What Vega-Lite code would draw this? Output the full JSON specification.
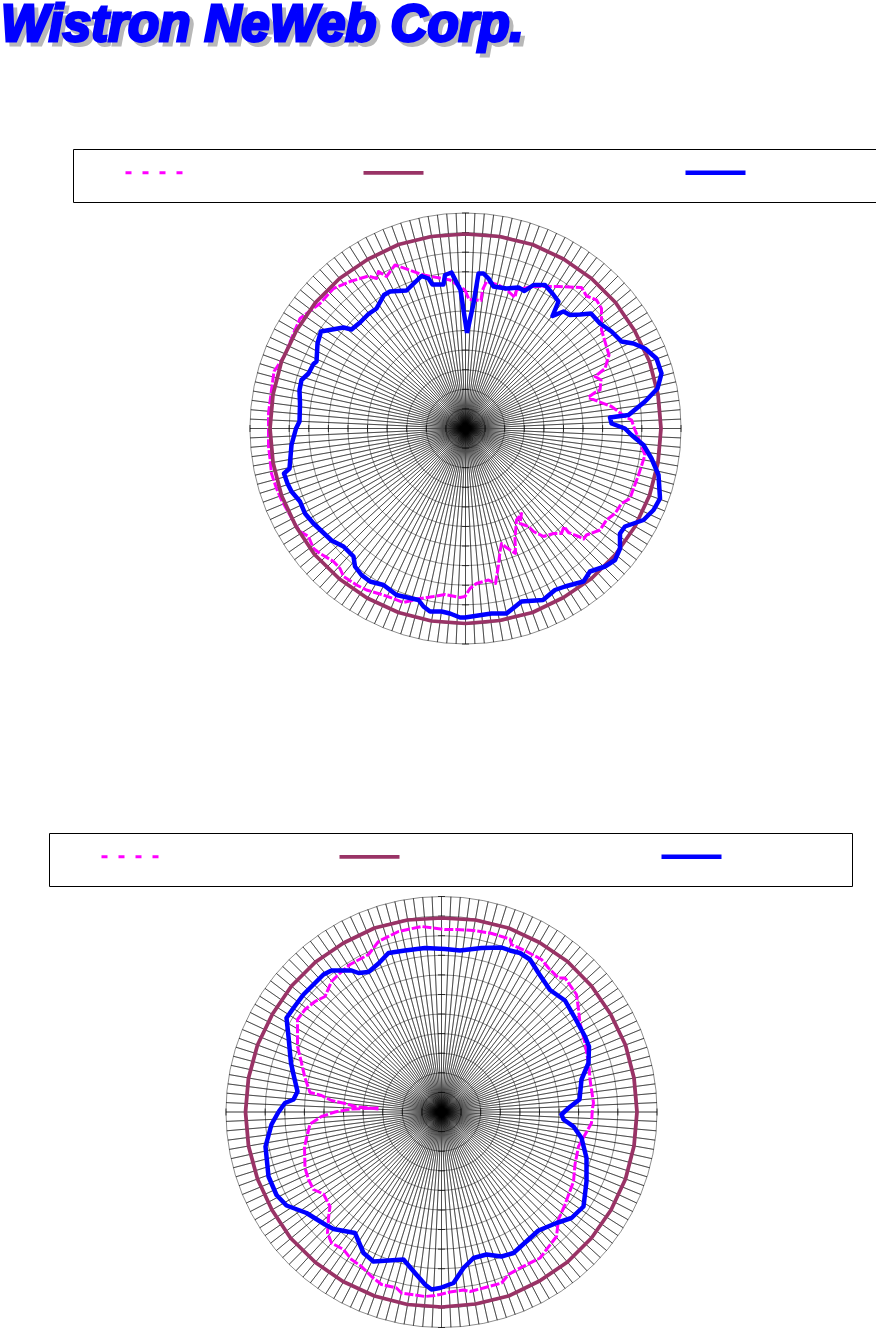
{"$schema":"https://vega.github.io/schema/vega-lite/v6.json","padding":0,"spacing":0,"background":"white",
"config":{"view":{"stroke":null},"concat":{"spacing":0}},
"datasets":{
"spokes":[{"angle":0},{"angle":2.5},{"angle":5},{"angle":7.5},{"angle":10},{"angle":12.5},{"angle":15},{"angle":17.5},{"angle":20},{"angle":22.5},{"angle":25},{"angle":27.5},{"angle":30},{"angle":32.5},{"angle":35},{"angle":37.5},{"angle":40},{"angle":42.5},{"angle":45},{"angle":47.5},{"angle":50},{"angle":52.5},{"angle":55},{"angle":57.5},{"angle":60},{"angle":62.5},{"angle":65},{"angle":67.5},{"angle":70},{"angle":72.5},{"angle":75},{"angle":77.5},{"angle":80},{"angle":82.5},{"angle":85},{"angle":87.5},{"angle":90},{"angle":92.5},{"angle":95},{"angle":97.5},{"angle":100},{"angle":102.5},{"angle":105},{"angle":107.5},{"angle":110},{"angle":112.5},{"angle":115},{"angle":117.5},{"angle":120},{"angle":122.5},{"angle":125},{"angle":127.5},{"angle":130},{"angle":132.5},{"angle":135},{"angle":137.5},{"angle":140},{"angle":142.5},{"angle":145},{"angle":147.5},{"angle":150},{"angle":152.5},{"angle":155},{"angle":157.5},{"angle":160},{"angle":162.5},{"angle":165},{"angle":167.5},{"angle":170},{"angle":172.5},{"angle":175},{"angle":177.5},{"angle":180},{"angle":182.5},{"angle":185},{"angle":187.5},{"angle":190},{"angle":192.5},{"angle":195},{"angle":197.5},{"angle":200},{"angle":202.5},{"angle":205},{"angle":207.5},{"angle":210},{"angle":212.5},{"angle":215},{"angle":217.5},{"angle":220},{"angle":222.5},{"angle":225},{"angle":227.5},{"angle":230},{"angle":232.5},{"angle":235},{"angle":237.5},{"angle":240},{"angle":242.5},{"angle":245},{"angle":247.5},{"angle":250},{"angle":252.5},{"angle":255},{"angle":257.5},{"angle":260},{"angle":262.5},{"angle":265},{"angle":267.5},{"angle":270},{"angle":272.5},{"angle":275},{"angle":277.5},{"angle":280},{"angle":282.5},{"angle":285},{"angle":287.5},{"angle":290},{"angle":292.5},{"angle":295},{"angle":297.5},{"angle":300},{"angle":302.5},{"angle":305},{"angle":307.5},{"angle":310},{"angle":312.5},{"angle":315},{"angle":317.5},{"angle":320},{"angle":322.5},{"angle":325},{"angle":327.5},{"angle":330},{"angle":332.5},{"angle":335},{"angle":337.5},{"angle":340},{"angle":342.5},{"angle":345},{"angle":347.5},{"angle":350},{"angle":352.5},{"angle":355},{"angle":357.5}],
"rings":[{"ring":1},{"ring":2},{"ring":3},{"ring":4},{"ring":5},{"ring":6},{"ring":7},{"ring":8},{"ring":9},{"ring":10},{"ring":11}],
"ticks":[{"t":-215.5},{"t":-195.9},{"t":-176.3},{"t":-156.7},{"t":-137.1},{"t":-117.5},{"t":-98},{"t":-78.4},{"t":-58.8},{"t":-39.2},{"t":-19.6},{"t":19.6},{"t":39.2},{"t":58.8},{"t":78.4},{"t":98},{"t":117.5},{"t":137.1},{"t":156.7},{"t":176.3},{"t":195.9},{"t":215.5}],
"logo":[{"label":"Wistron NeWeb Corp.","x":-464.5,"y":387.5}],
"top":[
{"series":"A","x":-0.5,"y":138.5},{"series":"A","x":3.5,"y":129},{"series":"A","x":15.5,"y":128},{"series":"A","x":17,"y":138.5},{"series":"A","x":21,"y":147},{"series":"A","x":33,"y":143.5},{"series":"A","x":43,"y":137},{"series":"A","x":49.5,"y":131},{"series":"A","x":51,"y":138.5},{"series":"A","x":66,"y":142},{"series":"A","x":93,"y":142},{"series":"A","x":116,"y":141},{"series":"A","x":121,"y":132.5},{"series":"A","x":131,"y":128.5},{"series":"A","x":136,"y":120},{"series":"A","x":136,"y":98.5},{"series":"A","x":143.5,"y":73.5},{"series":"A","x":139.5,"y":60},{"series":"A","x":129.5,"y":52},{"series":"A","x":135.5,"y":48.5},{"series":"A","x":134.5,"y":38.5},{"series":"A","x":129.5,"y":36},{"series":"A","x":122.5,"y":31},{"series":"A","x":146,"y":22},{"series":"A","x":159.5,"y":12},{"series":"A","x":166,"y":8.5},{"series":"A","x":169.5,"y":-1.5},{"series":"A","x":173,"y":-10},{"series":"A","x":179.5,"y":-26.5},{"series":"A","x":173,"y":-46.5},{"series":"A","x":168,"y":-60},{"series":"A","x":164.5,"y":-70},{"series":"A","x":156,"y":-75},{"series":"A","x":149.5,"y":-85},{"series":"A","x":141,"y":-91.5},{"series":"A","x":134.5,"y":-101.5},{"series":"A","x":121,"y":-106.5},{"series":"A","x":118,"y":-110.5},{"series":"A","x":113,"y":-108},{"series":"A","x":103,"y":-104},{"series":"A","x":98.5,"y":-98},{"series":"A","x":96,"y":-105},{"series":"A","x":88,"y":-105},{"series":"A","x":78,"y":-108},{"series":"A","x":68,"y":-103},{"series":"A","x":63,"y":-98},{"series":"A","x":54.5,"y":-95},{"series":"A","x":56,"y":-85},{"series":"A","x":51,"y":-91.5},{"series":"A","x":49.5,"y":-110},{"series":"A","x":50,"y":-125},{"series":"A","x":39.5,"y":-118},{"series":"A","x":36,"y":-115},{"series":"A","x":34.5,"y":-123},{"series":"A","x":33,"y":-136.5},{"series":"A","x":30,"y":-155},{"series":"A","x":23,"y":-151.5},{"series":"A","x":11,"y":-155},{"series":"A","x":4.5,"y":-160},{"series":"A","x":-0.5,"y":-168},{"series":"A","x":-5.5,"y":-169},{"series":"A","x":-20.5,"y":-166},{"series":"A","x":-32,"y":-168},{"series":"A","x":-45.5,"y":-170},{"series":"A","x":-62,"y":-174},{"series":"A","x":-82,"y":-166.5},{"series":"A","x":-99,"y":-161.5},{"series":"A","x":-109,"y":-156.5},{"series":"A","x":-122,"y":-148},{"series":"A","x":-125.5,"y":-140},{"series":"A","x":-132,"y":-133},{"series":"A","x":-145.5,"y":-125},{"series":"A","x":-152,"y":-120},{"series":"A","x":-157,"y":-108},{"series":"A","x":-165.5,"y":-103},{"series":"A","x":-172,"y":-93},{"series":"A","x":-184,"y":-71.5},{"series":"A","x":-189,"y":-60},{"series":"A","x":-194,"y":-45},{"series":"A","x":-195.5,"y":-30},{"series":"A","x":-197,"y":-18},{"series":"A","x":-197,"y":15},{"series":"A","x":-194,"y":38.5},{"series":"A","x":-191.5,"y":57},{"series":"A","x":-180.5,"y":73.5},{"series":"A","x":-172,"y":95},{"series":"A","x":-165.5,"y":110},{"series":"A","x":-145.5,"y":125},{"series":"A","x":-132,"y":140},{"series":"A","x":-115.5,"y":147},{"series":"A","x":-97,"y":152.5},{"series":"A","x":-89,"y":150},{"series":"A","x":-87,"y":157},{"series":"A","x":-79,"y":152},{"series":"A","x":-70.5,"y":163.5},{"series":"A","x":-42,"y":153.5},{"series":"A","x":-15.5,"y":148.5},{"series":"A","x":-0.5,"y":138.5},
{"series":"B","x":0,"y":194.5},{"series":"B","x":34,"y":192},{"series":"B","x":67,"y":184},{"series":"B","x":98,"y":169.5},{"series":"B","x":126,"y":150},{"series":"B","x":150,"y":126},{"series":"B","x":169,"y":98},{"series":"B","x":184,"y":67},{"series":"B","x":192.5,"y":34},{"series":"B","x":195.5,"y":0},{"series":"B","x":192.5,"y":-34},{"series":"B","x":184,"y":-67},{"series":"B","x":169.5,"y":-98},{"series":"B","x":150,"y":-126},{"series":"B","x":126,"y":-150},{"series":"B","x":98,"y":-169},{"series":"B","x":67,"y":-184},{"series":"B","x":34,"y":-192},{"series":"B","x":0,"y":-195},{"series":"B","x":-34,"y":-192.5},{"series":"B","x":-67,"y":-184},{"series":"B","x":-98.5,"y":-169.5},{"series":"B","x":-126,"y":-150.5},{"series":"B","x":-151,"y":-126},{"series":"B","x":-169.5,"y":-98},{"series":"B","x":-184,"y":-67},{"series":"B","x":-192.5,"y":-34},{"series":"B","x":-195.5,"y":0},{"series":"B","x":-192.5,"y":34},{"series":"B","x":-184,"y":67},{"series":"B","x":-169,"y":98},{"series":"B","x":-150,"y":126},{"series":"B","x":-126,"y":150},{"series":"B","x":-98,"y":169},{"series":"B","x":-67,"y":184},{"series":"B","x":-34,"y":192},{"series":"B","x":0,"y":194.5},
{"series":"C","x":1.5,"y":95.5},{"series":"C","x":8,"y":125},{"series":"C","x":13,"y":155},{"series":"C","x":18,"y":155},{"series":"C","x":23,"y":150},{"series":"C","x":28,"y":142},{"series":"C","x":41,"y":140},{"series":"C","x":53,"y":141},{"series":"C","x":59,"y":137.5},{"series":"C","x":68,"y":143.5},{"series":"C","x":79.5,"y":143.5},{"series":"C","x":87,"y":135},{"series":"C","x":93,"y":127},{"series":"C","x":87,"y":112.5},{"series":"C","x":98,"y":117},{"series":"C","x":104.5,"y":113.5},{"series":"C","x":114.5,"y":114},{"series":"C","x":125.5,"y":115},{"series":"C","x":134.5,"y":105},{"series":"C","x":146,"y":97},{"series":"C","x":156,"y":87},{"series":"C","x":168,"y":85},{"series":"C","x":179.5,"y":80},{"series":"C","x":191,"y":70},{"series":"C","x":196,"y":55},{"series":"C","x":192,"y":40},{"series":"C","x":179.5,"y":27},{"series":"C","x":163,"y":13.5},{"series":"C","x":144.5,"y":11},{"series":"C","x":146,"y":5},{"series":"C","x":159.5,"y":0},{"series":"C","x":166,"y":-6.5},{"series":"C","x":178,"y":-16.5},{"series":"C","x":186,"y":-30},{"series":"C","x":193,"y":-46.5},{"series":"C","x":194.5,"y":-70},{"series":"C","x":188,"y":-81.5},{"series":"C","x":178,"y":-91.5},{"series":"C","x":159.5,"y":-98},{"series":"C","x":154.5,"y":-105},{"series":"C","x":154.5,"y":-120},{"series":"C","x":149.5,"y":-131.5},{"series":"C","x":139.5,"y":-138},{"series":"C","x":124.5,"y":-143},{"series":"C","x":118,"y":-153},{"series":"C","x":99.5,"y":-158},{"series":"C","x":89.5,"y":-161.5},{"series":"C","x":77.5,"y":-171.5},{"series":"C","x":56,"y":-173},{"series":"C","x":41,"y":-185},{"series":"C","x":26,"y":-185},{"series":"C","x":16,"y":-186.5},{"series":"C","x":-0.5,"y":-189},{"series":"C","x":-5.5,"y":-189},{"series":"C","x":-15.5,"y":-185},{"series":"C","x":-24,"y":-183},{"series":"C","x":-35.5,"y":-183},{"series":"C","x":-42,"y":-178},{"series":"C","x":-47,"y":-171.5},{"series":"C","x":-69,"y":-166.5},{"series":"C","x":-82,"y":-156.5},{"series":"C","x":-95.5,"y":-153},{"series":"C","x":-104,"y":-146.5},{"series":"C","x":-110.5,"y":-138},{"series":"C","x":-112,"y":-128},{"series":"C","x":-122,"y":-118},{"series":"C","x":-134,"y":-112},{"series":"C","x":-144,"y":-102.5},{"series":"C","x":-152,"y":-95},{"series":"C","x":-160.5,"y":-85},{"series":"C","x":-165.5,"y":-73},{"series":"C","x":-174,"y":-63},{"series":"C","x":-178,"y":-55},{"series":"C","x":-181.5,"y":-45},{"series":"C","x":-176,"y":-40},{"series":"C","x":-174,"y":-16.5},{"series":"C","x":-169.5,"y":0},{"series":"C","x":-166,"y":7},{"series":"C","x":-165.5,"y":25},{"series":"C","x":-166,"y":38.5},{"series":"C","x":-164,"y":48.5},{"series":"C","x":-157,"y":55},{"series":"C","x":-152,"y":64.5},{"series":"C","x":-149,"y":67},{"series":"C","x":-148,"y":85},{"series":"C","x":-144.5,"y":97},{"series":"C","x":-122,"y":101},{"series":"C","x":-114,"y":99},{"series":"C","x":-105.5,"y":106},{"series":"C","x":-97,"y":114.5},{"series":"C","x":-89,"y":120},{"series":"C","x":-81.5,"y":133.5},{"series":"C","x":-75.5,"y":137},{"series":"C","x":-59,"y":138},{"series":"C","x":-44,"y":152.5},{"series":"C","x":-37,"y":150},{"series":"C","x":-33,"y":144},{"series":"C","x":-22,"y":144},{"series":"C","x":-20.5,"y":153.5},{"series":"C","x":-14,"y":156},{"series":"C","x":-5,"y":138.5},{"series":"C","x":-2,"y":118.5},{"series":"C","x":1.5,"y":95.5}
],
"bottom":[
{"series":"A","x":-63,"y":3},{"series":"A","x":-86.5,"y":5.5},{"series":"A","x":-96.5,"y":8.5},{"series":"A","x":-110,"y":11.5},{"series":"A","x":-120,"y":16.5},{"series":"A","x":-131.5,"y":19.5},{"series":"A","x":-136.5,"y":34},{"series":"A","x":-141.5,"y":55.5},{"series":"A","x":-144,"y":65.5},{"series":"A","x":-144,"y":92.5},{"series":"A","x":-136.5,"y":102.5},{"series":"A","x":-126.5,"y":110.5},{"series":"A","x":-116.5,"y":115.5},{"series":"A","x":-110,"y":130.5},{"series":"A","x":-103,"y":137.5},{"series":"A","x":-91.5,"y":147.5},{"series":"A","x":-73,"y":157.5},{"series":"A","x":-63,"y":170.5},{"series":"A","x":-43,"y":180.5},{"series":"A","x":-20,"y":185.5},{"series":"A","x":3.5,"y":182.5},{"series":"A","x":15,"y":182.5},{"series":"A","x":32,"y":181.5},{"series":"A","x":48.5,"y":179},{"series":"A","x":68.5,"y":173},{"series":"A","x":70,"y":167.5},{"series":"A","x":85,"y":160.5},{"series":"A","x":100,"y":152.5},{"series":"A","x":107,"y":144},{"series":"A","x":117,"y":134},{"series":"A","x":123.5,"y":134},{"series":"A","x":135,"y":117.5},{"series":"A","x":137,"y":102.5},{"series":"A","x":138.5,"y":89},{"series":"A","x":143.5,"y":69},{"series":"A","x":147.5,"y":45.5},{"series":"A","x":148.5,"y":32.5},{"series":"A","x":152,"y":9},{"series":"A","x":151,"y":4},{"series":"A","x":150,"y":-11},{"series":"A","x":137,"y":-34.5},{"series":"A","x":133.5,"y":-52.5},{"series":"A","x":132,"y":-69.5},{"series":"A","x":123.5,"y":-92.5},{"series":"A","x":117,"y":-107.5},{"series":"A","x":115,"y":-124.5},{"series":"A","x":110,"y":-131},{"series":"A","x":98.5,"y":-146},{"series":"A","x":78.5,"y":-156},{"series":"A","x":67,"y":-162.5},{"series":"A","x":60,"y":-171},{"series":"A","x":42,"y":-176},{"series":"A","x":28.5,"y":-179.5},{"series":"A","x":22,"y":-178},{"series":"A","x":8.5,"y":-180},{"series":"A","x":-1.5,"y":-182.5},{"series":"A","x":-6.5,"y":-183.5},{"series":"A","x":-16.5,"y":-184.5},{"series":"A","x":-40,"y":-181},{"series":"A","x":-45,"y":-176},{"series":"A","x":-60,"y":-172.5},{"series":"A","x":-70,"y":-164.5},{"series":"A","x":-80,"y":-154.5},{"series":"A","x":-90,"y":-147.5},{"series":"A","x":-98,"y":-137.5},{"series":"A","x":-110,"y":-131},{"series":"A","x":-114,"y":-121},{"series":"A","x":-113,"y":-106},{"series":"A","x":-111.5,"y":-94.5},{"series":"A","x":-118,"y":-82},{"series":"A","x":-128,"y":-77.5},{"series":"A","x":-133,"y":-67.5},{"series":"A","x":-136.5,"y":-56},{"series":"A","x":-137,"y":-34.5},{"series":"A","x":-131.5,"y":-12},{"series":"A","x":-120,"y":-4.5},{"series":"A","x":-106.5,"y":0},{"series":"A","x":-90,"y":3},{"series":"A","x":-63,"y":4},
{"series":"B","x":0,"y":194},{"series":"B","x":34,"y":192},{"series":"B","x":67,"y":184},{"series":"B","x":98,"y":169.5},{"series":"B","x":126,"y":150.5},{"series":"B","x":150,"y":126},{"series":"B","x":169,"y":98},{"series":"B","x":184,"y":67},{"series":"B","x":192.5,"y":34},{"series":"B","x":195.5,"y":0},{"series":"B","x":192.5,"y":-34},{"series":"B","x":184,"y":-67},{"series":"B","x":169.5,"y":-98},{"series":"B","x":150,"y":-126},{"series":"B","x":126,"y":-150},{"series":"B","x":98,"y":-169},{"series":"B","x":67,"y":-184},{"series":"B","x":34,"y":-192},{"series":"B","x":0,"y":-195},{"series":"B","x":-34,"y":-192.5},{"series":"B","x":-67,"y":-184},{"series":"B","x":-98.5,"y":-169.5},{"series":"B","x":-126,"y":-150.5},{"series":"B","x":-151,"y":-126},{"series":"B","x":-169.5,"y":-98},{"series":"B","x":-184,"y":-67},{"series":"B","x":-193,"y":-34},{"series":"B","x":-196,"y":0},{"series":"B","x":-193,"y":34},{"series":"B","x":-184,"y":67},{"series":"B","x":-169,"y":98},{"series":"B","x":-150,"y":126},{"series":"B","x":-126,"y":150},{"series":"B","x":-98,"y":169},{"series":"B","x":-67,"y":184},{"series":"B","x":-34,"y":192},{"series":"B","x":0,"y":194},
{"series":"C","x":-163,"y":0},{"series":"C","x":-156.5,"y":9},{"series":"C","x":-148,"y":12.5},{"series":"C","x":-144,"y":20.5},{"series":"C","x":-148,"y":37.5},{"series":"C","x":-150.5,"y":49},{"series":"C","x":-151.5,"y":59},{"series":"C","x":-153,"y":75.5},{"series":"C","x":-155,"y":94},{"series":"C","x":-148,"y":104},{"series":"C","x":-138,"y":117.5},{"series":"C","x":-130,"y":125.5},{"series":"C","x":-118,"y":137.5},{"series":"C","x":-110,"y":141.5},{"series":"C","x":-90,"y":141.5},{"series":"C","x":-83,"y":139},{"series":"C","x":-73,"y":140},{"series":"C","x":-63,"y":148.5},{"series":"C","x":-53,"y":159},{"series":"C","x":-36.5,"y":161.5},{"series":"C","x":-16.5,"y":164},{"series":"C","x":3.5,"y":163},{"series":"C","x":18.5,"y":161.5},{"series":"C","x":40,"y":164},{"series":"C","x":60,"y":164.5},{"series":"C","x":68.5,"y":161.5},{"series":"C","x":78.5,"y":159},{"series":"C","x":88.5,"y":152.5},{"series":"C","x":97,"y":139},{"series":"C","x":108.5,"y":122},{"series":"C","x":123.5,"y":111.5},{"series":"C","x":133.5,"y":94},{"series":"C","x":143.5,"y":75.5},{"series":"C","x":147.5,"y":65.5},{"series":"C","x":147,"y":49},{"series":"C","x":140,"y":32.5},{"series":"C","x":138,"y":12.5},{"series":"C","x":127,"y":4},{"series":"C","x":120,"y":-2.5},{"series":"C","x":122,"y":-7.5},{"series":"C","x":132,"y":-14.5},{"series":"C","x":140,"y":-26},{"series":"C","x":145,"y":-46},{"series":"C","x":145,"y":-69.5},{"series":"C","x":142,"y":-94.5},{"series":"C","x":130,"y":-106},{"series":"C","x":115,"y":-111},{"series":"C","x":97,"y":-118.5},{"series":"C","x":87,"y":-127.5},{"series":"C","x":72,"y":-141},{"series":"C","x":60,"y":-144.5},{"series":"C","x":45,"y":-142.5},{"series":"C","x":32,"y":-146},{"series":"C","x":22,"y":-156},{"series":"C","x":12,"y":-171},{"series":"C","x":-1.5,"y":-176},{"series":"C","x":-10,"y":-177.5},{"series":"C","x":-16.5,"y":-172.5},{"series":"C","x":-26.5,"y":-161},{"series":"C","x":-38,"y":-147.5},{"series":"C","x":-53,"y":-148.5},{"series":"C","x":-68,"y":-149.5},{"series":"C","x":-78,"y":-141},{"series":"C","x":-86.5,"y":-121},{"series":"C","x":-108,"y":-117},{"series":"C","x":-116.5,"y":-112.5},{"series":"C","x":-135,"y":-101},{"series":"C","x":-155,"y":-93.5},{"series":"C","x":-165,"y":-83},{"series":"C","x":-173,"y":-64.5},{"series":"C","x":-176,"y":-34.5},{"series":"C","x":-170,"y":-12.5},{"series":"C","x":-163,"y":0}
]
},
"vconcat":[
{"width":876,"height":700,
"encoding":{"x":{"type":"quantitative","scale":{"domain":[-465.5,410.5],"nice":false,"zero":false},"axis":null},"y":{"type":"quantitative","scale":{"domain":[-271.5,428.5],"nice":false,"zero":false},"axis":null}},
"layer":[
{"data":{"name":"logo"},"mark":{"type":"text","clip":true,"align":"left","baseline":"alphabetic","font":"Liberation Sans","fontWeight":"bold","fontStyle":"italic","fontSize":51,"fill":"#b8b8b8","stroke":"#b8b8b8","strokeWidth":3,"dx":4,"dy":4},"encoding":{"x":{"field":"x"},"y":{"field":"y"},"text":{"field":"label"}}},
{"data":{"name":"logo"},"mark":{"type":"text","clip":true,"align":"left","baseline":"alphabetic","font":"Liberation Sans","fontWeight":"bold","fontStyle":"italic","fontSize":51,"fill":"#0000ff","stroke":"#0000ff","strokeWidth":3},"encoding":{"x":{"field":"x"},"y":{"field":"y"},"text":{"field":"label"}}},
{"data":{"name":"spokes"},"mark":{"type":"arc","stroke":"black","strokeWidth":0.45,"fillOpacity":0},"encoding":{"x":{"datum":0},"y":{"datum":0},"theta":{"field":"angle","type":"quantitative","stack":null,"scale":{"domain":[0,360],"range":[0,6.283185]}},"theta2":{"field":"angle"},"radius":{"datum":11,"stack":null,"scale":{"domain":[0,11],"range":[0,215.5]}}}},
{"data":{"name":"rings"},"mark":{"type":"arc","stroke":"black","strokeWidth":0.45,"fillOpacity":0,"theta":0,"theta2":6.2832},"encoding":{"x":{"datum":0},"y":{"datum":0},"radius":{"field":"ring","type":"quantitative","stack":null,"scale":{"domain":[0,11],"range":[0,215.5]}}}},
{"data":{"name":"ticks"},"mark":{"type":"tick","orient":"vertical","size":7,"color":"black","thickness":1},"encoding":{"x":{"field":"t"},"y":{"datum":0}}},
{"data":{"name":"ticks"},"mark":{"type":"tick","orient":"horizontal","size":7,"color":"black","thickness":1},"encoding":{"y":{"field":"t"},"x":{"datum":0}}},
{"data":{"name":"top"},"transform":[{"filter":"datum.series==='legend only'"}],"mark":{"type":"line","order":false,"clip":false},
"encoding":{"x":{"field":"x"},"y":{"field":"y"},
"color":{"field":"series","type":"nominal","scale":{"domain":["A","B","C"],"range":["#ff00ff","#993366","#0000ff"]},
"legend":{"orient":"none","legendX":73,"legendY":149,"title":null,"direction":"horizontal","columns":3,"padding":18,"strokeColor":"black","fillColor":"white","symbolType":"M-10,0H10","symbolSize":36,"symbolOffset":59,"columnPadding":10,"labelOffset":4,"labelBaseline":"top","labelLimit":500,"labelFont":"DejaVu Sans","labelFontSize":11,"labelExpr":"datum.label=='A'?pad('',19,'\u2800'):datum.label=='B'?pad('',28,'\u2800')+'\u00a0\u2800':pad('',15,'\u2800')+'\u00a0\u2800'"}},
"strokeDash":{"field":"series","type":"nominal","scale":{"domain":["A","B","C"],"range":[[6,11],[1,0],[1,0]]},"legend":null},
"strokeWidth":{"field":"series","type":"nominal","scale":{"domain":["A","B","C"],"range":[3,4.5,5]},"legend":null}}},
{"data":{"name":"top"},"transform":[{"filter":"datum.series==='A'"}],"mark":{"type":"line","order":false,"strokeJoin":"round","clip":false,"strokeDash":[9,2]},"encoding":{"x":{"field":"x"},"y":{"field":"y"},"color":{"field":"series","type":"nominal"},"strokeWidth":{"field":"series","type":"nominal","legend":null}}},
{"data":{"name":"top"},"transform":[{"filter":"datum.series!=='A'"}],"mark":{"type":"line","order":false,"strokeJoin":"round","clip":false},"encoding":{"x":{"field":"x"},"y":{"field":"y"},"color":{"field":"series","type":"nominal"},"strokeWidth":{"field":"series","type":"nominal","legend":null}}}
]},
{"width":876,"height":628,
"encoding":{"x":{"type":"quantitative","scale":{"domain":[-441.5,434.5],"nice":false,"zero":false},"axis":null},"y":{"type":"quantitative","scale":{"domain":[-216,412],"nice":false,"zero":false},"axis":null}},
"layer":[
{"data":{"name":"spokes"},"mark":{"type":"arc","stroke":"black","strokeWidth":0.45,"fillOpacity":0},"encoding":{"x":{"datum":0},"y":{"datum":0},"theta":{"field":"angle","type":"quantitative","stack":null,"scale":{"domain":[0,360],"range":[0,6.283185]}},"theta2":{"field":"angle"},"radius":{"datum":11,"stack":null,"scale":{"domain":[0,11],"range":[0,215.5]}}}},
{"data":{"name":"rings"},"mark":{"type":"arc","stroke":"black","strokeWidth":0.45,"fillOpacity":0,"theta":0,"theta2":6.2832},"encoding":{"x":{"datum":0},"y":{"datum":0},"radius":{"field":"ring","type":"quantitative","stack":null,"scale":{"domain":[0,11],"range":[0,215.5]}}}},
{"data":{"name":"ticks"},"mark":{"type":"tick","orient":"vertical","size":7,"color":"black","thickness":1},"encoding":{"x":{"field":"t"},"y":{"datum":0}}},
{"data":{"name":"ticks"},"mark":{"type":"tick","orient":"horizontal","size":7,"color":"black","thickness":1},"encoding":{"y":{"field":"t"},"x":{"datum":0}}},
{"data":{"name":"bottom"},"transform":[{"filter":"datum.series==='legend only'"}],"mark":{"type":"line","order":false,"clip":false},
"encoding":{"x":{"field":"x"},"y":{"field":"y"},
"color":{"field":"series","type":"nominal","scale":{"domain":["A","B","C"],"range":["#ff00ff","#993366","#0000ff"]},
"legend":{"orient":"none","legendX":49,"legendY":133,"title":null,"direction":"horizontal","columns":3,"padding":18,"strokeColor":"black","fillColor":"white","symbolType":"M-10,0H10","symbolSize":36,"symbolOffset":59,"columnPadding":10,"labelOffset":4,"labelBaseline":"top","labelLimit":500,"labelFont":"DejaVu Sans","labelFontSize":11,"labelExpr":"datum.label=='A'?pad('',19,'\u2800'):datum.label=='B'?pad('',28,'\u2800')+'\u00a0\u2800':pad('',15,'\u2800')+'\u00a0\u2800'"}},
"strokeDash":{"field":"series","type":"nominal","scale":{"domain":["A","B","C"],"range":[[6,11],[1,0],[1,0]]},"legend":null},
"strokeWidth":{"field":"series","type":"nominal","scale":{"domain":["A","B","C"],"range":[3,4.5,5]},"legend":null}}},
{"data":{"name":"bottom"},"transform":[{"filter":"datum.series==='A'"}],"mark":{"type":"line","order":false,"strokeJoin":"round","clip":false,"strokeDash":[9,2]},"encoding":{"x":{"field":"x"},"y":{"field":"y"},"color":{"field":"series","type":"nominal"},"strokeWidth":{"field":"series","type":"nominal","legend":null}}},
{"data":{"name":"bottom"},"transform":[{"filter":"datum.series!=='A'"}],"mark":{"type":"line","order":false,"strokeJoin":"round","clip":false},"encoding":{"x":{"field":"x"},"y":{"field":"y"},"color":{"field":"series","type":"nominal"},"strokeWidth":{"field":"series","type":"nominal","legend":null}}}
]}
],
"resolve":{"scale":{"color":"independent","strokeDash":"independent","strokeWidth":"independent","radius":"independent","theta":"independent"},"legend":{"color":"independent"}}
}
